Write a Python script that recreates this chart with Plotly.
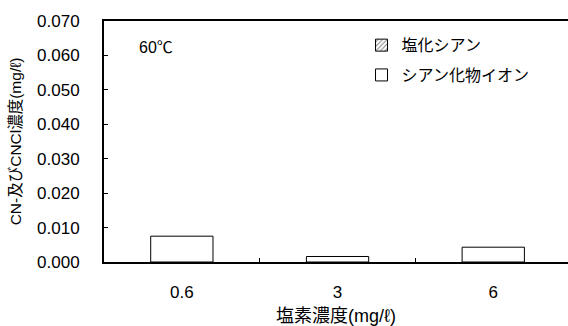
import plotly.graph_objects as go

# Chlorine dose categories (mg/ℓ)
categories = ["0.6", "3", "6"]
# Cyanogen chloride concentration (mg/ℓ)
cncl_values = [0.0, 0.0, 0.0]
# Cyanide ion concentration (mg/ℓ)
cn_values = [0.0075, 0.0016, 0.0043]
y_ticks = [0.0, 0.01, 0.02, 0.03, 0.04, 0.05, 0.06, 0.07]
y_range = [0, 0.07]

FONT = "Liberation Sans, Arial, Noto Sans CJK JP, sans-serif"

fig = go.Figure()
fig.add_trace(go.Bar(
    x=categories, y=cncl_values, name="塩化シアン", width=0.4,
    legendgroup="a",
    marker=dict(color="white", line=dict(color="black", width=1),
                pattern=dict(shape="/", fgcolor="black", size=4, solidity=0.3)),
))
fig.add_trace(go.Bar(
    x=categories, y=cn_values, name="シアン化物イオン", width=0.4,
    legendgroup="b",
    marker=dict(color="white", line=dict(color="black", width=1)),
))

fig.update_layout(
    width=568, height=326,
    margin=dict(l=104, r=0, t=21, b=64),
    paper_bgcolor="white", plot_bgcolor="white",
    barmode="overlay",
    font=dict(family=FONT, size=17, color="black"),
    showlegend=True,
    legend=dict(x=0.555, y=0.97, xanchor="left", yanchor="top",
                bgcolor="rgba(0,0,0,0)", font=dict(size=16),
                itemwidth=30, traceorder="grouped", tracegroupgap=6),
    xaxis=dict(
        type="category", range=[-0.5, 2.48],
        showline=True, linecolor="black", linewidth=2, mirror=True,
        ticks="inside", tickson="boundaries", ticklen=4, tickcolor="black",
        ticklabelstandoff=14, showgrid=False, zeroline=False,
        title=dict(text="塩素濃度(mg/ℓ)", font=dict(size=18), standoff=8),
    ),
    # labelled axis: invisible outside ticks push the labels away from the line
    yaxis=dict(
        range=y_range, tickvals=y_ticks, tickformat=".3f",
        showline=True, linecolor="black", linewidth=2,
        ticks="outside", ticklen=19, tickcolor="rgba(0,0,0,0)",
        showgrid=False, zeroline=False,
        title=dict(text="CN-及びCNCl濃度(mg/ℓ)", font=dict(size=15.5), standoff=12),
    ),
    # companion axis carrying the short inward tick marks
    yaxis2=dict(
        range=y_range, tickvals=y_ticks, overlaying="y", side="left",
        ticks="inside", ticklen=4, tickcolor="black", tickwidth=1,
        showticklabels=False, showline=False, showgrid=False, zeroline=False,
    ),
    annotations=[dict(text="60℃", xref="paper", yref="paper", x=0.072, y=0.89,
                      xanchor="left", yanchor="middle", showarrow=False,
                      font=dict(size=16))],
)
# an empty trace so the companion axis is drawn
fig.add_trace(go.Scatter(x=[categories[0]], y=[None], yaxis="y2",
                         showlegend=False, hoverinfo="skip"))

fig.write_html("out.html")
